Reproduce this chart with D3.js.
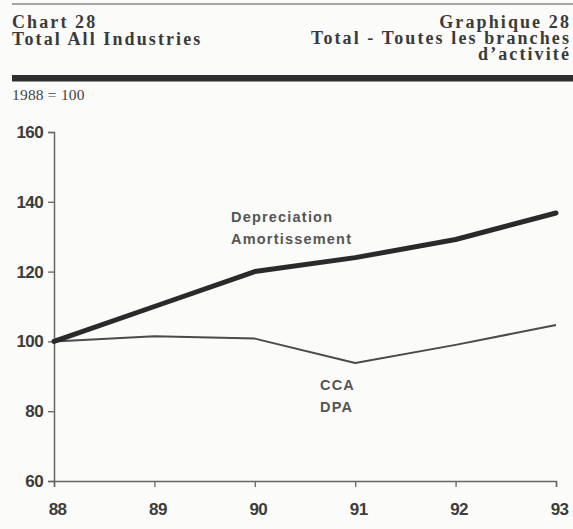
<!DOCTYPE html>
<html>
<head>
<meta charset="utf-8">
<script src="https://cdn.jsdelivr.net/npm/d3@7/dist/d3.min.js"></script>
<style>
	html, body { margin:0; padding:0; background:#fbfbf9; }
	svg { display:block; }
</style>
</head>
<body>
<div id="chartBox"></div>
<script>
// 数据
var years = [88, 89, 90, 91, 92, 93];
var depreciation = [100, 110, 120, 124, 129.2, 136.8];
var cca = [100, 101.5, 100.8, 93.8, 99, 104.7];
var yTicks = [60, 80, 100, 120, 140, 160];
var xTickLabels = ["88", "89", "90", "91", "92", "93"];

;(function(d3){
	var W = 573, H = 529;
	var svg = d3.select("#chartBox").append("svg")
		.attr("width", W)
		.attr("height", H);

	var serif = "'Liberation Serif','Times New Roman',serif";
	var sans = "'Liberation Sans',Arial,sans-serif";

	// 标题部分
	svg.append("line")
		.attr("x1", 12).attr("x2", W).attr("y1", 4).attr("y2", 4)
		.attr("stroke", "#8a8a8a").attr("stroke-width", 1.5);

	var head = svg.append("g")
		.attr("font-family", serif)
		.attr("font-weight", "bold")
		.attr("font-size", 18)
		.attr("fill", "#3a3a3a")
		.attr("letter-spacing", 2.1);
	head.append("text").attr("x", 12).attr("y", 28).text("Chart 28");
	head.append("text").attr("x", 12).attr("y", 44.5).text("Total All Industries");
	head.append("text").attr("x", 571).attr("y", 27.5).attr("text-anchor", "end").text("Graphique 28");
	head.append("text").attr("x", 571).attr("y", 43.5).attr("text-anchor", "end").text("Total - Toutes les branches");
	head.append("text").attr("x", 571).attr("y", 60).attr("text-anchor", "end").text("d\u2019activité");

	svg.append("rect")
		.attr("x", 12).attr("y", 75).attr("width", W - 12).attr("height", 6.5)
		.attr("fill", "#2e2e2e");

	svg.append("text")
		.attr("x", 12).attr("y", 100)
		.attr("font-family", serif)
		.attr("font-size", 15.5)
		.attr("letter-spacing", 0.2)
		.attr("fill", "#444")
		.text("1988 = 100");

	// 比例尺
	var x = d3.scaleLinear().domain([88, 93]).range([54, 556]);
	var y = d3.scaleLinear().domain([60, 160]).range([481, 132]);

	// 坐标轴
	var yAxis = svg.append("g")
		.attr("transform", "translate(" + x(88) + ",0)")
		.call(d3.axisLeft(y).tickValues(yTicks).tickSize(6).tickPadding(5).tickFormat(d3.format("d")));
	var xAxis = svg.append("g")
		.attr("transform", "translate(0," + y(60) + ")")
		.call(d3.axisBottom(x).tickValues(years).tickSize(6).tickPadding(16)
			.tickFormat(function(d, i){ return xTickLabels[i]; }));

	[yAxis, xAxis].forEach(function(ax){
		ax.select(".domain").attr("stroke", "#666").attr("stroke-width", 1.5);
		ax.selectAll(".tick line").attr("stroke", "#666").attr("stroke-width", 1.3);
		ax.selectAll(".tick text")
			.attr("font-family", sans)
			.attr("font-weight", "bold")
			.attr("font-size", 17)
			.attr("letter-spacing", -0.6)
			.attr("fill", "#3c3c3c");
	});
	xAxis.selectAll(".tick text").attr("dx", 3);

	// 折线
	var line = d3.line()
		.x(function(d, i){ return x(years[i]); })
		.y(function(d){ return y(d); });

	svg.append("path")
		.datum(cca)
		.attr("d", line)
		.attr("fill", "none")
		.attr("stroke", "#4a4a4a")
		.attr("stroke-width", 2)
		.attr("stroke-linejoin", "round");

	svg.append("path")
		.datum(depreciation)
		.attr("d", line)
		.attr("fill", "none")
		.attr("stroke", "#2a2a2a")
		.attr("stroke-width", 5)
		.attr("stroke-linejoin", "round")
		.attr("stroke-linecap", "round");

	// 系列标签
	var lab = svg.append("g")
		.attr("font-family", sans)
		.attr("font-weight", "bold")
		.attr("font-size", 14.5)
		.attr("letter-spacing", 1.2)
		.attr("fill", "#555");
	lab.append("text").attr("x", 231).attr("y", 222).text("Depreciation");
	lab.append("text").attr("x", 231).attr("y", 244).text("Amortissement");
	lab.append("text").attr("x", 320).attr("y", 390).text("CCA");
	lab.append("text").attr("x", 320).attr("y", 412).text("DPA");
})(d3);
</script>
</body>
</html>
